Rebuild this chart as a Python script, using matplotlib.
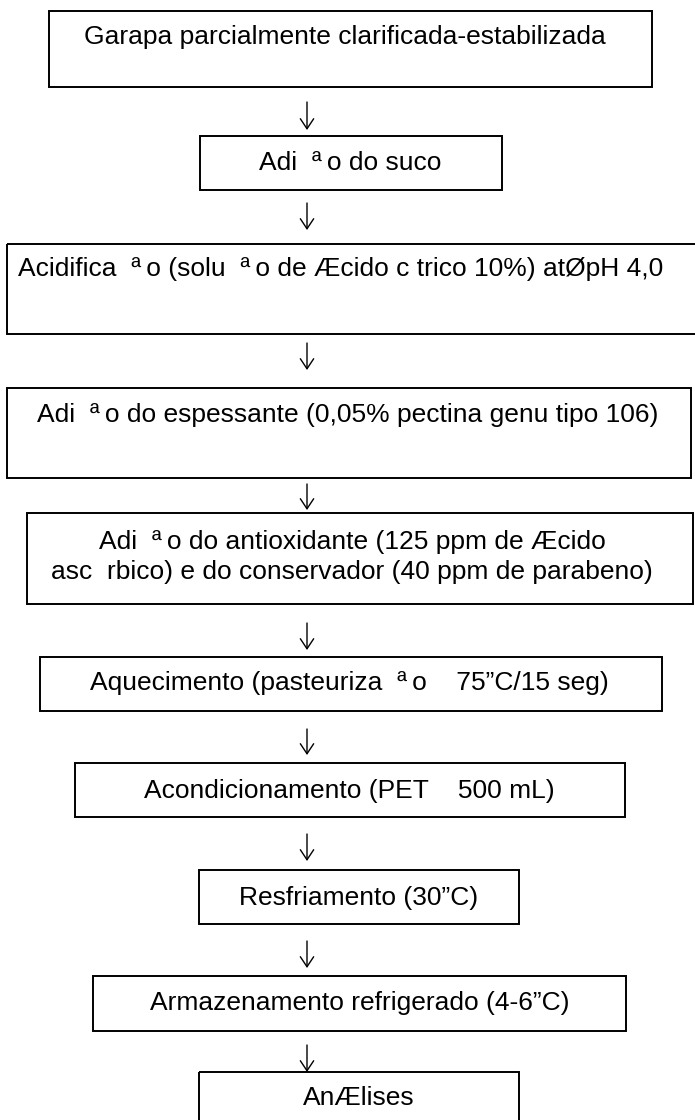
import matplotlib
matplotlib.use("Agg")
import matplotlib.pyplot as plt
from matplotlib.patches import Rectangle

plt.rcParams["font.family"] = ["Liberation Sans", "DejaVu Sans"]

# flowchart steps (text kept as it appears in the source, encoding quirks included)
STEPS = [
    "Garapa parcialmente clarificada-estabilizada",
    "Adi  \u00aa\u2009o do suco",
    "Acidifica  \u00aa\u2009o (solu  \u00aa\u2009o de \u00c6cido c trico 10%) at\u00d8pH 4,0",
    "Adi  \u00aa\u2009o do espessante (0,05% pectina genu tipo 106)",
    "Adi  \u00aa\u2009o do antioxidante (125 ppm de \u00c6cido\nasc  rbico) e do conservador (40 ppm de parabeno)",
    "Aquecimento (pasteuriza  \u00aa\u2009o    75\u201dC/15 seg)",
    "Acondicionamento (PET    500 mL)",
    "Resfriamento (30\u201dC)",
    "Armazenamento refrigerado (4-6\u201dC)",
    "An\u00c6lises",
]

# layout in pixels: left, right, top, bottom of each box, and text centre
BOX_LEFT = [49, 200, 7, 7, 27, 40, 75, 199, 93, 199]
BOX_RIGHT = [652, 502, 700, 691, 693, 662, 625, 519, 626, 519]
BOX_TOP = [11, 136, 244, 388, 513, 657, 763, 870, 976, 1072]
BOX_BOTTOM = [87, 190, 334, 478, 604, 711, 817, 924, 1031, 1130]
TEXT_X = [345, 350, 341, 348, 352, 349, 349, 359, 360, 359]
TEXT_Y = [37, 163, 269, 415, 557, 683, 791, 898, 1003, 1098]
ARROW_X = 307
ARROW_SPANS = [(102, 130), (203, 230), (343, 370), (484, 510), (623, 650),
               (729, 755), (834, 861), (941, 968), (1045, 1072)]

W, H = 695, 1120
fig = plt.figure(figsize=(W / 100, H / 100), dpi=100)
ax = fig.add_axes([0, 0, 1, 1])
ax.set_xlim(0, W)
ax.set_ylim(H, 0)
ax.axis("off")

for i, label in enumerate(STEPS):
    x0, x1 = BOX_LEFT[i], BOX_RIGHT[i]
    y0, y1 = BOX_TOP[i], BOX_BOTTOM[i]
    ax.add_patch(Rectangle((x0, y0), x1 - x0, y1 - y0, fill=False,
                           edgecolor="black", lw=1.4))
    ax.text(TEXT_X[i], TEXT_Y[i], label, ha="center", va="center",
            fontsize=19, color="black", linespacing=1.3)

for ya, yb in ARROW_SPANS:
    ax.annotate("", xy=(ARROW_X, yb), xytext=(ARROW_X, ya),
                arrowprops=dict(arrowstyle="->,head_length=0.72,head_width=0.48",
                                color="black", lw=1.0, shrinkA=0, shrinkB=0))

fig.savefig("out.png", dpi=100)
plt.close(fig)
